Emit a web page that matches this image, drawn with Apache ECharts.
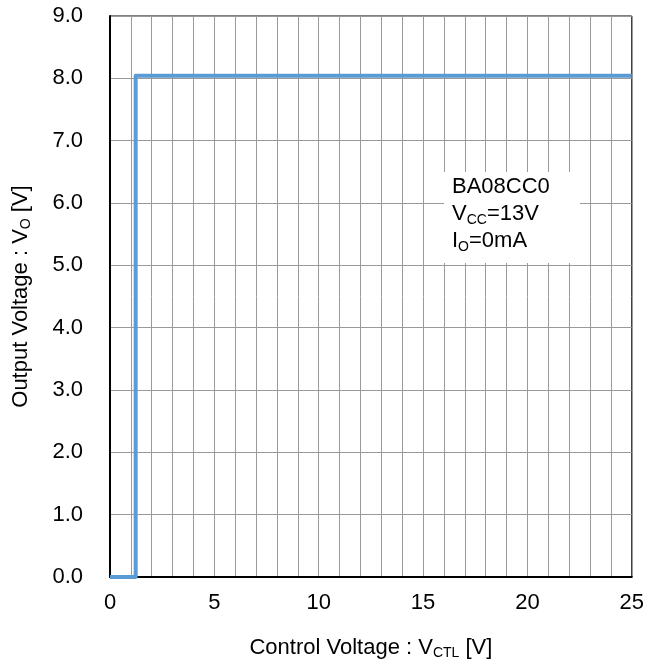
<!DOCTYPE html>
<html><head><meta charset="utf-8">
<script src="https://cdn.jsdelivr.net/npm/echarts@6/dist/echarts.min.js"></script>
<style>html,body{margin:0;padding:0;background:#fff}#c{width:647px;height:669px}</style>
</head><body><div id="c"></div>
<script>
const xTicks = [0, 5, 10, 15, 20, 25];
const yTicks = [0, 1, 2, 3, 4, 5, 6, 7, 8, 9];
const vctl = [0, 1.23, 1.23, 25];
const vout = [0, 0, 8.04, 8.04];
const noteLines = ['BA08CC0', 'VCC=13V', 'IO=0mA'];

const chart = echarts.init(document.getElementById('c'), null, {renderer: 'canvas'});
const font = '"Liberation Sans", Arial, sans-serif';
const grey = '#9a9a9a';
const sub = {fontSize: 14, fontFamily: font, color: '#000', verticalAlign: 'bottom', padding: [10, 0, 0, 0]};
chart.setOption({
  animation: false,
  backgroundColor: '#fff',
  grid: {left: 110, right: 11, top: 16, bottom: 92, show: true, borderColor: '#000', borderWidth: 1},
  xAxis: {
    type: 'value', min: xTicks[0], max: xTicks[xTicks.length - 1], interval: 5,
    axisLine: {show: true, onZero: false, lineStyle: {color: '#000', width: 2}},
    axisTick: {show: false},
    axisLabel: {color: '#000', fontSize: 22, fontFamily: font, margin: 15},
    splitLine: {show: true, lineStyle: {color: grey, width: 1}},
    minorTick: {show: false, splitNumber: 5},
    minorSplitLine: {show: true, lineStyle: {color: grey, width: 1}},
    name: '{a|Control Voltage : V}{s|CTL}{a| [V]}',
    nameLocation: 'middle', nameGap: 59,
    nameTextStyle: {rich: {a: {fontSize: 22, fontFamily: font, color: '#000'}, s: sub}}
  },
  yAxis: {
    type: 'value', min: yTicks[0], max: yTicks[yTicks.length - 1], interval: 1,
    axisLine: {show: true, onZero: false, lineStyle: {color: '#000', width: 2}},
    axisTick: {show: false},
    axisLabel: {color: '#000', fontSize: 22, fontFamily: font, margin: 27, formatter: v => v.toFixed(1)},
    splitLine: {show: true, lineStyle: {color: grey, width: 1}},
    name: '{a|Output Voltage : V}{s|O}{a| [V]}',
    nameLocation: 'middle', nameGap: 77, nameRotate: 90,
    nameTextStyle: {rich: {a: {fontSize: 22, fontFamily: font, color: '#000'}, s: sub}}
  },
  series: [{
    type: 'line', data: vctl.map((x, i) => [x, vout[i]]),
    symbol: 'none', lineStyle: {color: '#5b9bd5', width: 4, join: 'round'}, z: 5
  }],
  graphic: [{
    type: 'rect', left: 444, top: 172, shape: {width: 136, height: 91}, style: {fill: '#fff'}, z: 10
  }, {
    type: 'text', left: 452, top: 176, z: 11,
    style: {
      text: '{a|' + noteLines[0] + '}\n{a|V}{s|CC}{a|=13V}\n{a|I}{s|O}{a|=0mA}',
      rich: {
        a: {fontSize: 22, fontFamily: font, fill: '#000', color: '#000', lineHeight: 27},
        s: {fontSize: 14, fontFamily: font, fill: '#000', color: '#000', lineHeight: 27, padding: [12, 0, 0, 0]}
      }
    }
  }]
});
</script></body></html>
